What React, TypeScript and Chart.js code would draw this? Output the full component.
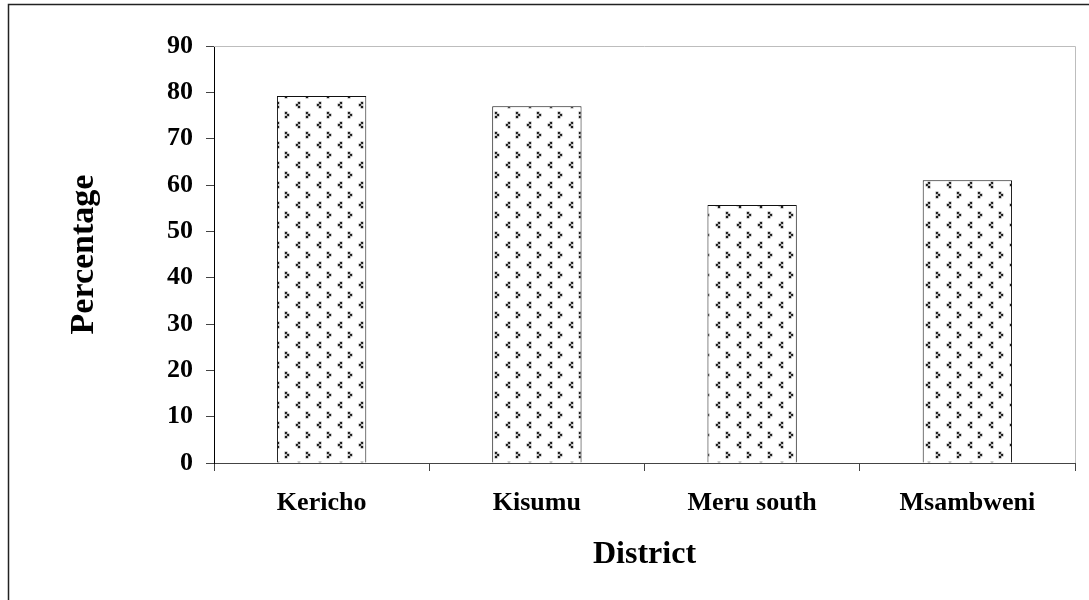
import React, { useEffect, useRef } from "react";
import { Chart, registerables } from "chart.js";

Chart.register(...registerables);

const categories = ["Kericho", "Kisumu", "Meru south", "Msambweni"];
const percentages = [79.2, 77.0, 55.7, 61.0];
const yTicks = [0, 10, 20, 30, 40, 50, 60, 70, 80, 90];

const FONT = "'Liberation Serif', 'Times New Roman', serif";

function makePattern(): CanvasPattern | string {
  const c = document.createElement("canvas");
  const w = 21;
  const h = 20;
  c.width = w;
  c.height = h;
  const ctx = c.getContext("2d");
  if (!ctx) return "#ffffff";
  ctx.fillStyle = "#ffffff";
  ctx.fillRect(0, 0, w, h);
  const dot = (x: number, y: number) => {
    ctx.fillStyle = "#9a9a9a";
    ctx.fillRect(x - 0.5, y - 0.5, 3, 3);
    ctx.fillStyle = "#1c1c1c";
    ctx.fillRect(x, y, 2, 2);
  };
  // "<" motif of three dots
  const lt = (x: number, y: number) => {
    dot(x + 2, y);
    dot(x, y + 2);
    dot(x + 2, y + 4);
  };
  // ">" motif of three dots
  const gt = (x: number, y: number) => {
    dot(x, y);
    dot(x + 2, y + 2);
    dot(x, y + 4);
  };
  lt(2, 2);
  gt(12, 12);
  return ctx.createPattern(c, "repeat") || "#ffffff";
}

const framePlugin = {
  id: "frame",
  afterDraw(chart: any) {
    const { ctx, chartArea } = chart;
    ctx.save();
    // plot area top/right border (light gray)
    ctx.strokeStyle = "#bdbdbd";
    ctx.lineWidth = 1;
    ctx.beginPath();
    ctx.moveTo(chartArea.left, chartArea.top + 0.5);
    ctx.lineTo(chartArea.right + 0.5, chartArea.top + 0.5);
    ctx.lineTo(chartArea.right + 0.5, chartArea.bottom);
    ctx.stroke();
    // outer frame
    ctx.strokeStyle = "#222222";
    ctx.lineWidth = 1.5;
    ctx.beginPath();
    ctx.moveTo(8.5, 600);
    ctx.lineTo(8.5, 4.5);
    ctx.lineTo(1089, 4.5);
    ctx.stroke();
    ctx.restore();
  },
};

export default function App() {
  const ref = useRef<HTMLCanvasElement | null>(null);

  useEffect(() => {
    if (!ref.current) return;
    const pattern = makePattern();
    const chart = new Chart(ref.current, {
      type: "bar",
      data: {
        labels: categories,
        datasets: [
          {
            data: percentages,
            backgroundColor: pattern as any,
            borderColor: "#111111",
            borderWidth: 1,
            barPercentage: 0.83,
            categoryPercentage: 0.5,
          },
        ],
      },
      options: {
        responsive: false,
        animation: false,
        events: [],
        layout: { padding: { left: 0, top: 46, right: 14, bottom: 0 } },
        plugins: {
          legend: { display: false },
          tooltip: { enabled: false },
        },
        scales: {
          x: {
            afterFit: (s: any) => {
              s.height = 137;
            },
            border: { display: true, color: "#444444", width: 1 },
            grid: {
              display: true,
              drawOnChartArea: false,
              drawTicks: true,
              tickLength: 8,
              color: "#444444",
              offset: true,
            },
            ticks: {
              color: "#000000",
              padding: 17,
              font: { family: FONT, size: 26, weight: "bold" },
              maxRotation: 0,
            },
            title: {
              display: true,
              text: "District",
              color: "#000000",
              font: { family: FONT, size: 32, weight: "bold" },
              padding: { top: 0, bottom: 26 },
            },
          },
          y: {
            min: 0,
            max: 90,
            afterFit: (s: any) => {
              s.width = 214;
            },
            afterBuildTicks: (s: any) => {
              s.ticks = yTicks.map((v) => ({ value: v }));
            },
            border: { display: true, color: "#000000", width: 1 },
            grid: {
              display: true,
              drawOnChartArea: false,
              drawTicks: true,
              tickLength: 8,
              color: "#444444",
            },
            ticks: {
              color: "#000000",
              padding: 13,
              font: { family: FONT, size: 26, weight: "bold" },
            },
            title: {
              display: true,
              text: "Percentage",
              color: "#000000",
              font: { family: FONT, size: 34, weight: "bold" },
              padding: { top: 64, bottom: 0 },
            },
          },
        },
      },
      plugins: [framePlugin],
    });
    return () => chart.destroy();
  }, []);

  return (
    <div style={{ position: "fixed", left: 0, top: 0, width: 1089, height: 600, background: "#ffffff" }}>
      <canvas ref={ref} width={1089} height={600} style={{ display: "block" }} />
    </div>
  );
}
